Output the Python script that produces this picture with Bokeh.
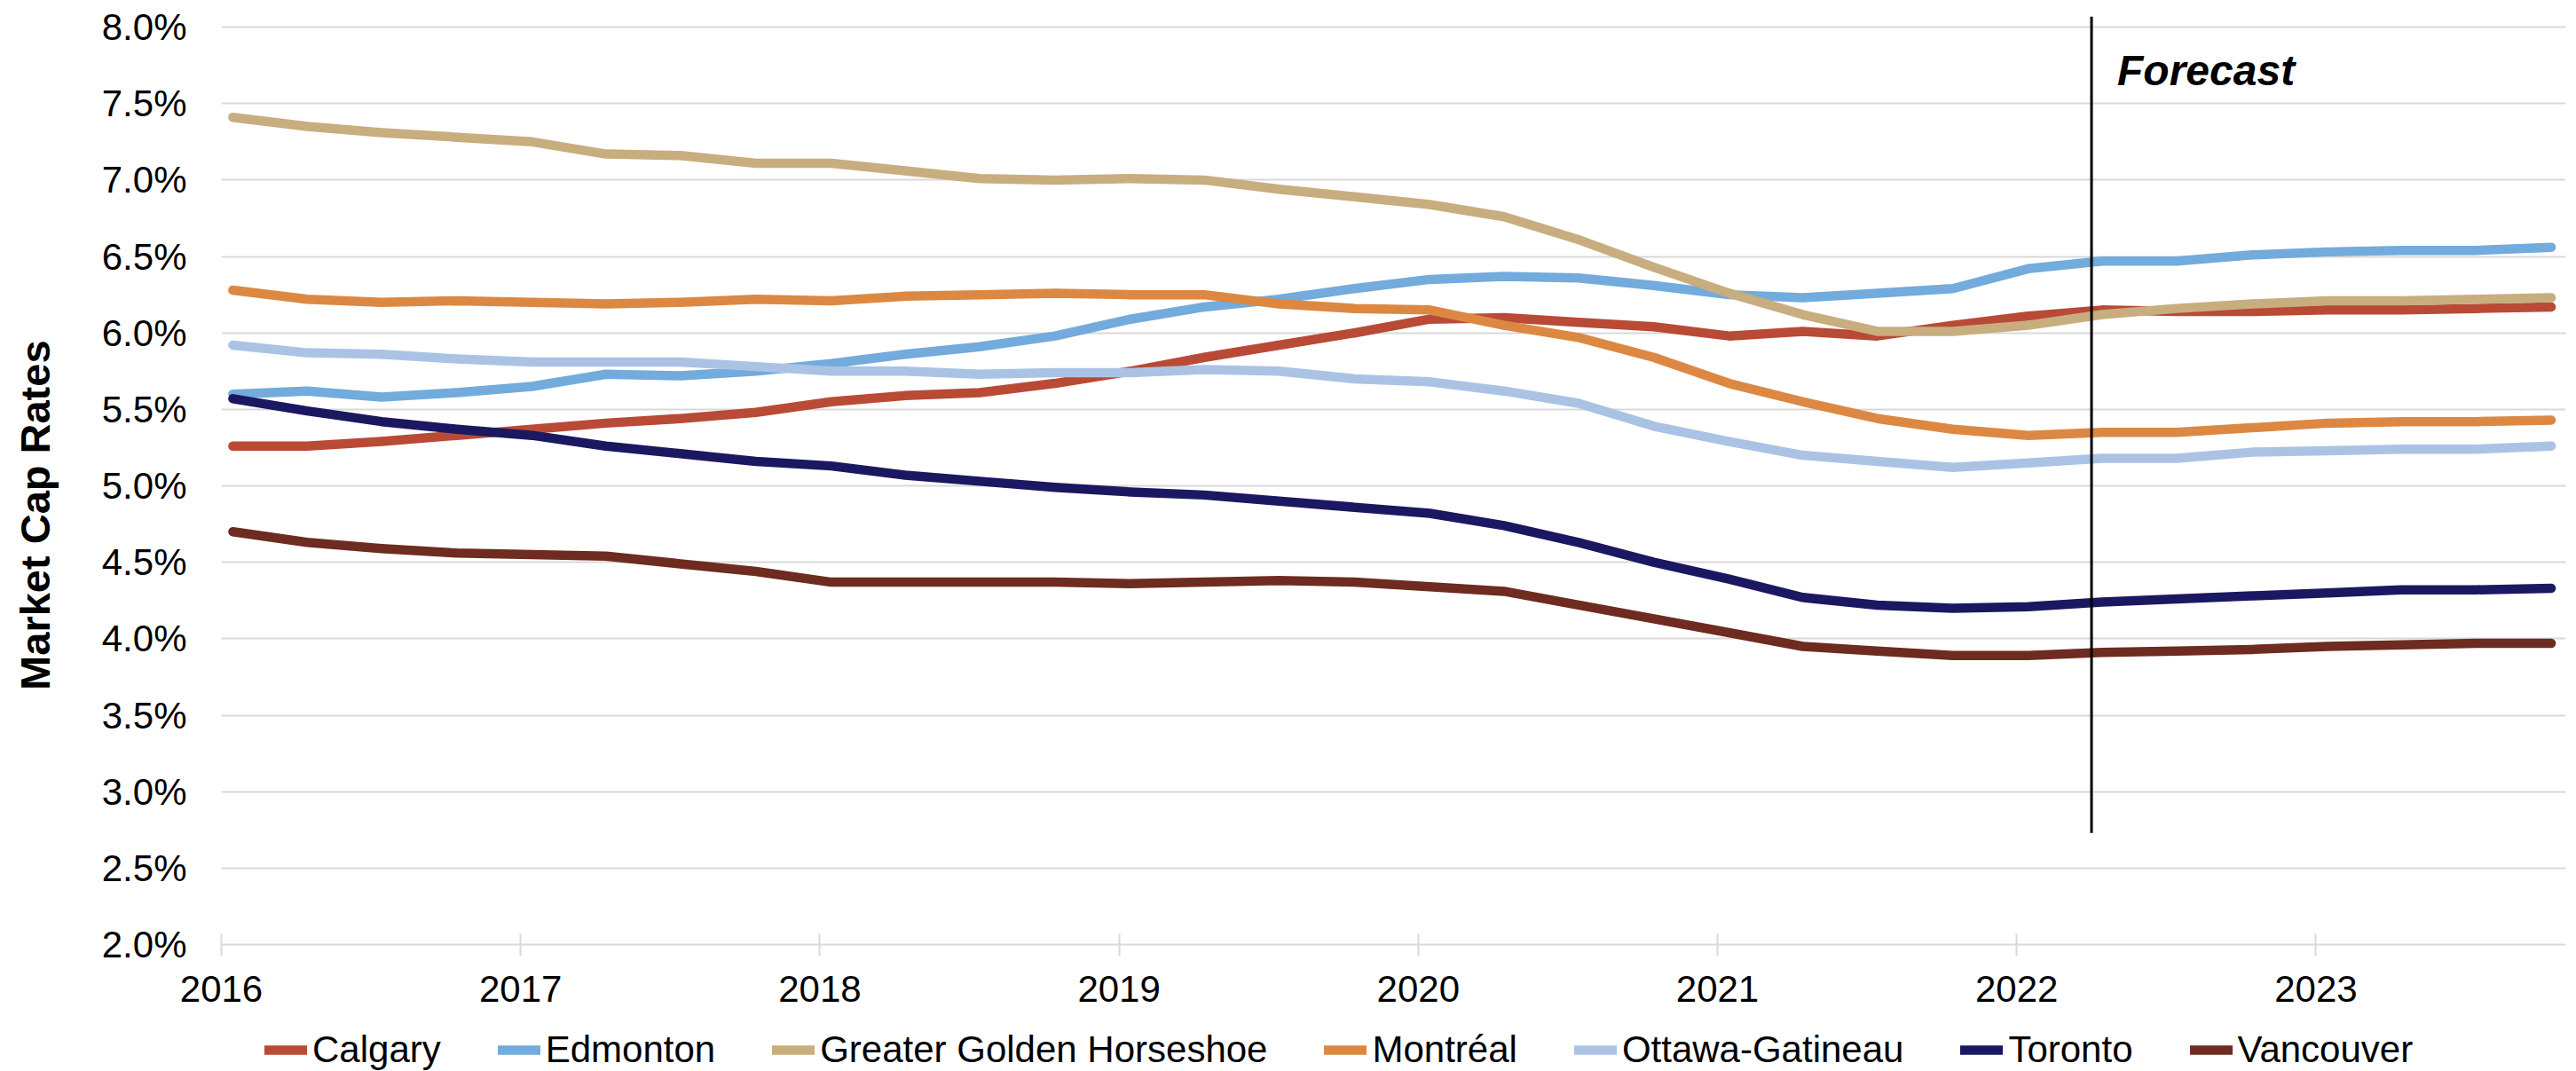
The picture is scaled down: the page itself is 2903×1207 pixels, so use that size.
import pandas as pd
from bokeh.embed import file_html
from bokeh.layouts import column
from bokeh.models import (FixedTicker, Label, Legend, LegendItem,
                          PrintfTickFormatter, Range1d)
from bokeh.plotting import figure
from bokeh.resources import INLINE

# Quarterly observations (mid-month of each quarter's first month)
years = [2016, 2017, 2018, 2019, 2020, 2021, 2022, 2023]
quarter_months = [1, 4, 7, 10]
quarters = [f"{y}-{m:02d}-15" for y in years for m in quarter_months]

cities = ["Calgary", "Edmonton", "Greater Golden Horseshoe", "Montréal",
          "Ottawa-Gatineau", "Toronto", "Vancouver"]

calgary = [5.26, 5.26, 5.29, 5.33, 5.37, 5.41, 5.44, 5.48, 5.55, 5.59, 5.61, 5.67,
           5.75, 5.84, 5.92, 6.00, 6.09, 6.10, 6.07, 6.04, 5.98, 6.01, 5.98, 6.05,
           6.11, 6.15, 6.14, 6.14, 6.15, 6.15, 6.16, 6.17]
edmonton = [5.60, 5.62, 5.58, 5.61, 5.65, 5.73, 5.72, 5.75, 5.80, 5.86, 5.91, 5.98,
            6.09, 6.17, 6.22, 6.29, 6.35, 6.37, 6.36, 6.31, 6.25, 6.23, 6.26, 6.29,
            6.42, 6.47, 6.47, 6.51, 6.53, 6.54, 6.54, 6.56]
golden_horseshoe = [7.41, 7.35, 7.31, 7.28, 7.25, 7.17, 7.16, 7.11, 7.11, 7.06, 7.01, 7.00,
                    7.01, 7.00, 6.94, 6.89, 6.84, 6.76, 6.61, 6.43, 6.26, 6.12, 6.01, 6.01,
                    6.05, 6.12, 6.16, 6.19, 6.21, 6.21, 6.22, 6.23]
montreal = [6.28, 6.22, 6.20, 6.21, 6.20, 6.19, 6.20, 6.22, 6.21, 6.24, 6.25, 6.26,
            6.25, 6.25, 6.19, 6.16, 6.15, 6.05, 5.97, 5.84, 5.67, 5.55, 5.44, 5.37,
            5.33, 5.35, 5.35, 5.38, 5.41, 5.42, 5.42, 5.43]
ottawa_gatineau = [5.92, 5.87, 5.86, 5.83, 5.81, 5.81, 5.81, 5.78, 5.75, 5.75, 5.73, 5.74,
                   5.74, 5.76, 5.75, 5.70, 5.68, 5.62, 5.54, 5.39, 5.29, 5.20, 5.16, 5.12,
                   5.15, 5.18, 5.18, 5.22, 5.23, 5.24, 5.24, 5.26]
toronto = [5.57, 5.49, 5.42, 5.37, 5.33, 5.26, 5.21, 5.16, 5.13, 5.07, 5.03, 4.99,
           4.96, 4.94, 4.90, 4.86, 4.82, 4.74, 4.63, 4.50, 4.39, 4.27, 4.22, 4.20,
           4.21, 4.24, 4.26, 4.28, 4.30, 4.32, 4.32, 4.33]
vancouver = [4.70, 4.63, 4.59, 4.56, 4.55, 4.54, 4.49, 4.44, 4.37, 4.37, 4.37, 4.37,
             4.36, 4.37, 4.38, 4.37, 4.34, 4.31, 4.22, 4.13, 4.04, 3.95, 3.92, 3.89,
             3.89, 3.91, 3.92, 3.93, 3.95, 3.96, 3.97, 3.97]

series = [calgary, edmonton, golden_horseshoe, montreal, ottawa_gatineau, toronto, vancouver]
colors = ["#B94A36", "#72ABDC", "#C8AD7F", "#DC8843", "#AAC3E5", "#1B1862", "#6E2B20"]

y_ticks = [2.0, 2.5, 3.0, 3.5, 4.0, 4.5, 5.0, 5.5, 6.0, 6.5, 7.0, 7.5, 8.0]
forecast_start = 2022.25
forecast_bottom = 2.73


def decimal_year(stamp):
    t = pd.Timestamp(stamp)
    days = 366 if t.is_leap_year else 365
    return t.year + (t.dayofyear - 1) / days


x = [decimal_year(q) for q in quarters]

FONT = "Liberation Sans"
NBSP = "\u00a0"
LINE_W = 10.5

p = figure(frame_width=2642, frame_height=1046, output_backend="svg",
           toolbar_location=None,
           x_range=Range1d(2016, 2023.835), y_range=Range1d(2.0, 8.07),
           min_border_left=249, min_border_right=12, min_border_top=18,
           min_border_bottom=86)
p.outline_line_color = None
p.background_fill_color = "white"
p.border_fill_color = "white"

# x axis: light grey baseline with ticks crossing it
p.xaxis.ticker = FixedTicker(ticks=years)
p.xaxis.formatter = PrintfTickFormatter(format="%d")
p.xaxis.axis_line_color = "#D9D9D9"
p.xaxis.axis_line_width = 2
p.xaxis.major_tick_line_color = "#D9D9D9"
p.xaxis.major_tick_line_width = 2
p.xaxis.major_tick_in = 12
p.xaxis.major_tick_out = 13
p.xaxis.minor_tick_line_color = None
p.xaxis.major_label_text_font = FONT
p.xaxis.major_label_text_font_size = "42px"
p.xaxis.major_label_text_color = "black"
p.xaxis.major_label_standoff = 22

# y axis: percent labels only, bold title on the left
p.yaxis.ticker = FixedTicker(ticks=y_ticks)
p.yaxis.formatter = PrintfTickFormatter(format="%.1f%%")
p.yaxis.axis_line_color = None
p.yaxis.major_tick_line_color = None
p.yaxis.minor_tick_line_color = None
p.yaxis.major_tick_out = 0
p.yaxis.major_label_text_font = FONT
p.yaxis.major_label_text_font_size = "42px"
p.yaxis.major_label_text_color = "black"
p.yaxis.major_label_standoff = 39
p.yaxis.axis_label = "Market Cap Rates" + NBSP * 6
p.yaxis.axis_label_text_font = FONT
p.yaxis.axis_label_text_font_style = "bold"
p.yaxis.axis_label_text_font_size = "47px"
p.yaxis.axis_label_text_color = "black"
p.yaxis.axis_label_standoff = 46

p.xgrid.grid_line_color = None
p.ygrid.grid_line_color = "#D9D9D9"
p.ygrid.grid_line_width = 2

for vals, color in zip(series, colors):
    p.line(x, vals, line_color=color, line_width=LINE_W,
           line_cap="round", line_join="round")

# forecast divider and caption
p.segment(x0=[forecast_start], y0=[forecast_bottom], x1=[forecast_start], y1=[8.07],
          line_color="black", line_width=3)
p.add_layout(Label(x=forecast_start, x_offset=29, y=985, y_units="screen",
                   text="Forecast", text_font=FONT, text_font_style="bold italic",
                   text_font_size="48px", text_color="black",
                   text_baseline="alphabetic", text_align="left"))

# legend strip under the chart; its key lines carry the same series but sit
# outside the strip's own (unit) ranges, so only the legend keys show
lp = figure(width=2903, height=57, output_backend="svg", toolbar_location=None,
            x_axis_location=None, y_axis_location=None, min_border=0,
            x_range=Range1d(0, 1), y_range=Range1d(0, 1))
lp.outline_line_color = None
lp.grid.visible = False
lp.background_fill_color = "white"
lp.border_fill_color = "white"

items = []
for name, vals, color in zip(cities, series, colors):
    key = lp.line(x, vals, line_color=color, line_width=LINE_W, line_cap="round")
    items.append(LegendItem(label=name, renderers=[key]))

legend = Legend(items=items, orientation="horizontal", location=(49, 0),
                glyph_width=48, glyph_height=44, label_height=44,
                label_standoff=6, spacing=64, padding=0, margin=0,
                border_line_color=None, background_fill_alpha=0,
                label_text_font=FONT, label_text_font_size="42px",
                label_text_color="black")
lp.add_layout(legend)

page = column(p, lp, spacing=0)

open("out.html", "w").write(file_html(page, INLINE))
